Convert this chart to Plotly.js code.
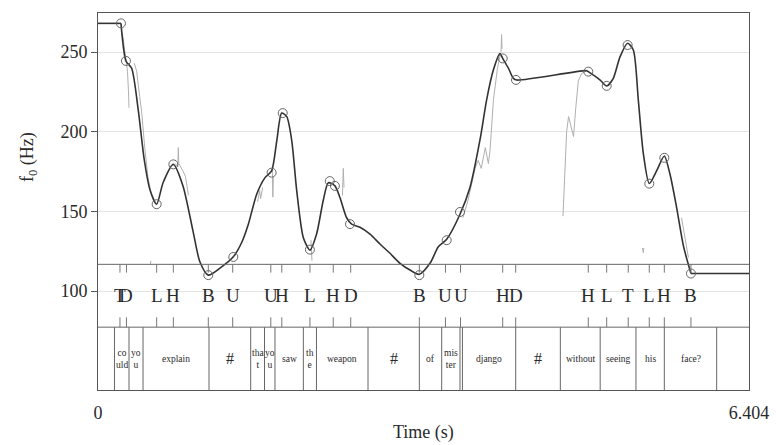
<!DOCTYPE html>
<html><head><meta charset="utf-8">
<script src="https://cdn.plot.ly/plotly-3.0.1.min.js"></script>
<style>html,body{margin:0;padding:0;background:#fff;}#chart{width:776px;height:445px;}</style>
</head><body><div id="chart"></div>
<script>
// Stylized f0 contour (time s, f0 Hz)
const contourT = [0,0.226,0.275,0.331,0.396,0.455,0.511,0.577,0.64,0.741,0.836,0.934,1.003,1.085,1.2,1.331,1.41,1.479,1.561,1.643,1.708,1.758,1.807,1.856,1.905,1.955,2.020,2.085,2.151,2.216,2.266,2.331,2.380,2.446,2.495,2.577,2.676,2.774,2.872,2.971,3.069,3.161,3.266,3.348,3.43,3.561,3.659,3.758,3.823,3.889,3.954,3.981,4.036,4.086,4.12,4.807,4.823,4.94,5.004,5.069,5.135,5.21,5.266,5.315,5.364,5.423,5.495,5.571,5.627,5.692,5.76,5.833,6.404];
const contourF = [268,268,244.4,239.8,213.6,182.4,163.6,154.5,168,179.5,166,137.8,118.2,110,114.4,121.5,130,142,160.8,171.2,175.4,194,211.7,209.6,194.9,162.9,133.5,125.7,136,157,168,166,158.7,146,142,140,135.7,129.5,123.7,117.4,113.2,110.5,117.4,127.8,132.5,148.2,165,195,220,238.7,249,246,240,233.5,232.4,238.3,237.7,232.4,228.7,233.5,247,255.5,251.3,220,186.6,167.5,175.4,184.8,173.3,152.4,128,111,111];

// Target points (circles)
const targetT = [0.226,0.275,0.577,0.741,1.085,1.331,1.708,1.817,2.085,2.28,2.33,2.479,3.161,3.43,3.561,3.981,4.112,4.823,5.004,5.21,5.423,5.571,5.833];
const targetF = [268,244.4,154.5,179.5,110,121.4,174.3,211.7,126,169,166,142,110,131.9,149.6,246,232.5,237.7,228.8,254.4,167.4,183.6,111];

// Raw f0 trace segments (null = unvoiced gap)
const rawT = [0.24,0.27,0.29,0.30,0.305,null,
  0.357,0.38,0.41,0.43,0.46,0.49,0.52,null,
  0.515,0.52,null,
  0.76,0.785,0.79,0.795,0.83,0.86,0.89,null,
  1.57,1.59,1.60,1.62,null,
  1.715,1.72,1.725,null,
  2.095,2.105,null,
  2.405,2.413,2.42,null,
  3.59,3.64,3.71,3.74,3.77,3.81,3.84,3.856,3.89,3.93,3.96,null,
  3.965,3.97,3.975,null,
  4.574,4.59,4.61,4.629,4.645,4.665,4.678,4.70,4.725,4.758,4.80,null,
  5.355,5.36,5.365,5.37,null,
  5.74,5.775,5.808];
const rawF = [262,247,238,225,215,null,
  243,238,222,212,190,172,162,null,
  116.5,119,null,
  180,178,190,180,176,172,160,null,
  156,163,158,165,null,
  176,159,172,null,
  132,119,null,
  160,177,165,null,
  146,157,177,182,177,190,180,188,220,240,249,null,
  250,261,252,null,
  147,175,200,209.5,205,199,197,215,232,236.6,238,null,
  127,124,124,127,null,
  146,133,121];

// Tone tier
const toneT = [0.216,0.280,0.577,0.741,1.085,1.325,1.700,1.808,2.085,2.314,2.486,3.161,3.418,3.566,3.981,4.109,4.823,5.004,5.216,5.423,5.571,5.833];
const toneLabels = ["T","D","L","H","B","U","U","H","L","H","D","B","U","U","H","D","H","L","T","L","H","B"];

// Word tier
const wordBounds = [0.162,0.305,0.443,1.092,1.502,1.638,1.741,2.020,2.149,2.656,3.161,3.381,3.561,3.585,4.109,4.548,4.940,5.292,5.571,6.086];
const wordLabels = ["","co<br>uld","yo<br>u","explain","#","tha<br>t","yo<br>u","saw","th<br>e","weapon","#","of","mis<br>ter","","django","#","without","seeing","his","face?",""];

const tMax = 6.404;
const yTicks = [100,150,200,250];
const xTickLabels = ["0","6.404"];

const serif = "Liberation Serif, Times New Roman, serif";
const ink = "#2a2a2a";

const shapes = [];
const annotations = [];
shapes.push({type:"line",xref:"paper",yref:"paper",x0:0,x1:1,y0:1/3,y1:1/3,line:{color:"#666",width:1}});
shapes.push({type:"line",xref:"paper",yref:"paper",x0:0,x1:1,y0:1/6,y1:1/6,line:{color:"#666",width:1}});
wordBounds.forEach(b=>{
  shapes.push({type:"line",xref:"x",yref:"paper",x0:b,x1:b,y0:0,y1:1/6,line:{color:"#666",width:1}});
});
toneT.forEach((t,i)=>{
  shapes.push({type:"line",xref:"x",yref:"paper",x0:t,x1:t,y0:1/3,y1:1/3-0.022,line:{color:"#777",width:1}});
  shapes.push({type:"line",xref:"x",yref:"paper",x0:t,x1:t,y0:1/6,y1:1/6+0.026,line:{color:"#777",width:1}});
  annotations.push({xref:"x",yref:"paper",x:t,y:0.25,text:toneLabels[i],showarrow:false,xanchor:"center",yanchor:"middle",font:{family:serif,size:19,color:ink}});
});
const edges = [0].concat(wordBounds,[tMax]);
wordLabels.forEach((w,i)=>{
  if(!w) return;
  const mid = (edges[i]+edges[i+1])/2;
  const big = (w==="#");
  annotations.push({xref:"x",yref:"paper",x:mid,y:1/12,text:w,showarrow:false,xanchor:"center",yanchor:"middle",font:{family:serif,size:big?16:9.5,color:ink}});
});
annotations.push({xref:"paper",yref:"paper",x:-0.1075,y:0.618,text:"f<sub>0</sub> (Hz)",textangle:-90,showarrow:false,xanchor:"center",yanchor:"middle",font:{family:serif,size:18,color:ink}});
annotations.push({xref:"paper",yref:"paper",x:0.5,y:-0.114,text:"Time (s)",showarrow:false,xanchor:"center",yanchor:"middle",font:{family:serif,size:18,color:ink}});

// flat lead-in / tail segments drawn straight, the rest smoothed
const n = contourT.length;
const contourLine = {color:"#333",width:1.6};
const data = [
  {x:rawT,y:rawF,type:"scatter",mode:"lines",connectgaps:false,line:{color:"#b0b0b0",width:1},hoverinfo:"skip"},
  {x:contourT.slice(0,2),y:contourF.slice(0,2),type:"scatter",mode:"lines",line:contourLine},
  {x:contourT.slice(1,n-1),y:contourF.slice(1,n-1),type:"scatter",mode:"lines",line:Object.assign({shape:"spline",smoothing:0.7},contourLine)},
  {x:contourT.slice(n-2),y:contourF.slice(n-2),type:"scatter",mode:"lines",line:contourLine},
  {x:targetT,y:targetF,type:"scatter",mode:"markers",marker:{symbol:"circle-open",size:9,color:"#666",line:{width:1}}}
];

const layout = {
  width:776,height:445,
  margin:{l:98,r:27,t:13,b:55},
  paper_bgcolor:"#fff",plot_bgcolor:"#fff",
  showlegend:false,
  font:{family:serif,color:ink},
  xaxis:{range:[0,tMax],showgrid:false,zeroline:false,showline:true,mirror:true,linecolor:"#555",linewidth:1,
    tickvals:[0,tMax],ticktext:xTickLabels,ticks:"",ticklabelstandoff:6,tickfont:{family:serif,size:18,color:ink}},
  yaxis:{range:[37.9,274.5],showgrid:true,gridcolor:"#e4e4e4",gridwidth:1,zeroline:false,showline:true,mirror:true,linecolor:"#555",linewidth:1,
    tickvals:yTicks,ticks:"outside",ticklen:6,tickcolor:"#555",tickfont:{family:serif,size:18,color:ink}},
  shapes:shapes,annotations:annotations
};
Plotly.newPlot("chart",data,layout,{staticPlot:true,displayModeBar:false});
</script></body></html>
